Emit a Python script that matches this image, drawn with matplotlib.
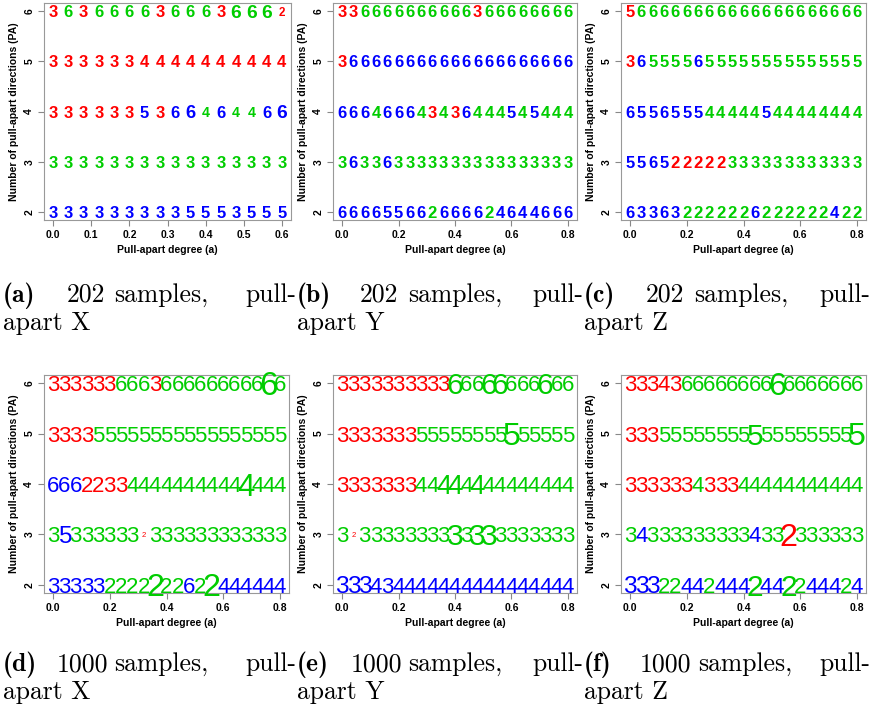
import matplotlib
matplotlib.use("Agg")
import matplotlib.pyplot as plt

# pull-apart degree grids
x_06 = [0.00, 0.04, 0.08, 0.12, 0.16, 0.20, 0.24, 0.28, 0.32, 0.36, 0.40,
        0.44, 0.48, 0.52, 0.56, 0.60]
x_08 = [0.00, 0.04, 0.08, 0.12, 0.16, 0.20, 0.24, 0.28, 0.32, 0.36, 0.40,
        0.44, 0.48, 0.52, 0.56, 0.60, 0.64, 0.68, 0.72, 0.76, 0.80]
pa_levels = [2, 3, 4, 5, 6]
ticks_06 = [0.0, 0.1, 0.2, 0.3, 0.4, 0.5, 0.6]
ticks_08 = [0.0, 0.2, 0.4, 0.6, 0.8]

# estimated number of directions, one string per PA row (2 .. 6)
pred_a = ["3333333335553555",
          "3333333333333333",
          "3333335366464466",
          "3333334444444444",
          "3636666366636662"]
pred_b = ["666655662666624644666",
          "363363333333333333333",
          "666466643436444545444",
          "366666666666666666666",
          "336666666666366666666"]
pred_c = ["633632222226222222422",
          "556522222333333333333",
          "655655544444544444444",
          "365555655555555555555",
          "566666666666666666666"]
pred_d = ["333332222222622444444",
          "353333332333333333333",
          "666223344444444444444",
          "333355555555555555555",
          "333333666366666666666"]
pred_e = ["333434444444444444444",
          "323333333333333333333",
          "333333344444444444444",
          "333333355555555555555",
          "333333333366666666666"]
pred_f = ["333224424442442244424",
          "343333333334332333333",
          "333333433344444444444",
          "333555555555555555555",
          "333436666666666666666"]

# relative text size (PA row, position, cex) where it differs from 1
cex_a = [(6, 12, 1.15), (6, 13, 1.15), (6, 14, 1.15), (6, 15, 0.7),
         (4, 9, 1.1), (4, 15, 1.15), (4, 10, 0.85), (4, 12, 0.85), (4, 13, 0.85)]
cex_b = []
cex_c = []
cex_d = [(6, 19, 1.5), (4, 17, 1.4), (3, 8, 0.35), (3, 1, 1.1),
         (2, 9, 1.45), (2, 14, 1.45)]
cex_e = [(6, 10, 1.35), (6, 13, 1.35), (6, 14, 1.35), (6, 18, 1.35), (5, 15, 1.45),
         (4, 9, 1.25), (4, 10, 1.25), (4, 12, 1.25), (3, 1, 0.35), (3, 10, 1.35),
         (3, 12, 1.35), (3, 13, 1.35), (2, 0, 1.1), (2, 1, 1.1), (2, 2, 1.1)]
cex_f = [(6, 13, 1.45), (5, 11, 1.35), (5, 20, 1.45), (3, 14, 1.45), (2, 11, 1.35),
         (2, 14, 1.35), (2, 0, 1.1), (2, 1, 1.1), (2, 2, 1.1)]

captions = [("(a)", "202", "apart X"), ("(b)", "202", "apart Y"), ("(c)", "202", "apart Z"),
            ("(d)", "1000", "apart X"), ("(e)", "1000", "apart Y"), ("(f)", "1000", "apart Z")]

RED, GREEN, BLUE = "#ff0000", "#00cd00", "#0000ff"
W, H = 872, 713
fig = plt.figure(figsize=(W / 100, H / 100), dpi=100)


def px_axes(l, t, r, b):
    return fig.add_axes([l / W, 1 - b / H, (r - l) / W, (b - t) / H])


def draw_panel(ax, xs, rows, cex, size, weight, xticks):
    big = {(p, i): s for p, i, s in cex}
    for pa, row in zip(pa_levels, rows):
        for i, ch in enumerate(row):
            v = int(ch)
            col = GREEN if v == pa else (RED if v < pa else BLUE)
            ax.text(xs[i], pa, ch, color=col, fontsize=size * big.get((pa, i), 1.0),
                    fontweight=weight, family="Liberation Sans",
                    ha="center", va="center_baseline")
    span = xs[-1] - xs[0]
    ax.set_xlim(xs[0] - 0.04 * span, xs[-1] + 0.04 * span)
    ax.set_ylim(1.84, 6.16)
    ax.set_xticks(xticks)
    ax.set_xticklabels(["%.1f" % t for t in xticks], fontweight="bold",
                       family="Liberation Sans", fontsize=7.5)
    ax.set_yticks(pa_levels)
    ax.set_yticklabels([str(p) for p in pa_levels], rotation=90, va="center",
                       fontweight="bold", family="Liberation Sans", fontsize=7.5)
    ax.tick_params(direction="out", length=4, color="#888888", pad=3)
    for s in ax.spines.values():
        s.set_color("#999999")
    ax.set_xlabel("Pull-apart degree (a)", fontweight="bold", family="Liberation Sans",
                  fontsize=7.5, labelpad=4)
    ax.set_ylabel("Number of pull-apart directions (PA)", fontweight="bold",
                  family="Liberation Sans", fontsize=7.5, labelpad=4)


panels = [
    ((44, 3, 291, 220), x_06, pred_a, cex_a, 12, "bold", ticks_06),
    ((333, 3, 577, 220), x_08, pred_b, cex_b, 12, "bold", ticks_08),
    ((621, 3, 866, 220), x_08, pred_c, cex_c, 12, "bold", ticks_08),
    ((44, 375, 289, 593), x_08, pred_d, cex_d, 16, "normal", ticks_08),
    ((333, 375, 577, 593), x_08, pred_e, cex_e, 16, "normal", ticks_08),
    ((621, 375, 866, 593), x_08, pred_f, cex_f, 16, "normal", ticks_08),
]
for box, xs, rows, cex, size, weight, xticks in panels:
    ax = px_axes(*box)
    draw_panel(ax, xs, rows, cex, size, weight, xticks)

# captions (justified two-line sub-figure captions)
col_left = [3, 297, 584]
col_right = [296, 583, 870]
num_x = [[86, 379, 665], [82, 376, 665]]
samp_x = [[161, 455, 741], [161, 455, 745]]
base1 = [302, 671]
base2 = [330, 699]
CAP = 18.5
for k, (lab, n, line2) in enumerate(captions):
    r, c = divmod(k, 3)
    y1 = 1 - base1[r] / H
    y2 = 1 - base2[r] / H
    fig.text(col_left[c] / W, y1, lab, family="cmb10", fontsize=CAP, va="baseline")
    fig.text(num_x[r][c] / W, y1, n, family="cmr10", fontsize=CAP, va="baseline", ha="center")
    fig.text(samp_x[r][c] / W, y1, "samples,", family="cmr10", fontsize=CAP,
             va="baseline", ha="center")
    fig.text(col_right[c] / W, y1, "pull-", family="cmr10", fontsize=CAP,
             va="baseline", ha="right")
    fig.text(col_left[c] / W, y2, line2, family="cmr10", fontsize=CAP, va="baseline")

fig.savefig("out.png", dpi=100)
